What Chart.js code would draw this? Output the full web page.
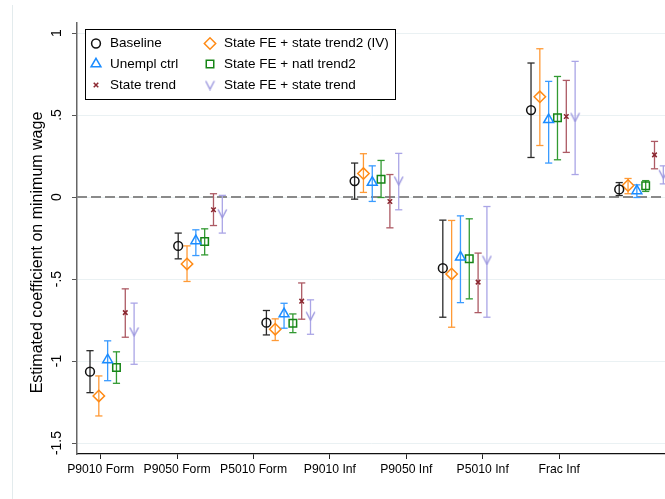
<!DOCTYPE html>
<html>
<head>
<meta charset="utf-8">
<script src="https://cdn.jsdelivr.net/npm/chart.js@4.4.1/dist/chart.umd.min.js"></script>
<style>
  html, body { margin: 0; padding: 0; background: #fff; }
  #wrap { width: 665px; height: 499px; position: relative; }
</style>
</head>
<body>
<div id="wrap"><canvas id="chart" width="665" height="499"></canvas></div>
<script>
// ---- данные ----
const categories = ['P9010 Form', 'P9050 Form', 'P5010 Form', 'P9010 Inf', 'P9050 Inf', 'P5010 Inf', 'Frac Inf'];
const tickPos = [0.121, 0.987, 1.854, 2.72, 3.586, 4.452, 5.319];   // where the category labels sit
const groupPos = [0, 1, 2, 3, 4, 5, 6];                              // where each group of estimates sits
const yTicks = [-1.5, -1, -0.5, 0, 0.5, 1];
const refLine = 0;
const yTitle = 'Estimated coefficient on minimum wage';

const seriesNames = ['Baseline', 'State FE + state trend2 (IV)', 'Unempl ctrl', 'State FE + natl trend2', 'State trend', 'State FE + state trend'];
const seriesOffset = [0, 0.1, 0.2, 0.3, 0.4, 0.5];

const baselineEst = [-1.065, -0.298, -0.766, 0.097, -0.434, 0.530, 0.046];
const baselineHi  = [-0.937, -0.220, -0.692, 0.207, -0.141, 0.817, 0.088];
const baselineLo  = [-1.193, -0.377, -0.841, -0.013, -0.733, 0.241, 0.009];

const ivEst = [-1.213, -0.408, -0.806, 0.143, -0.469, 0.611, 0.070];
const ivHi  = [-1.091, -0.298, -0.743, 0.264, -0.143, 0.904, 0.113];
const ivLo  = [-1.335, -0.515, -0.875, 0.028, -0.794, 0.314, 0.020];

const unemplEst = [-0.993, -0.267, -0.713, 0.089, -0.367, 0.471, 0.038];
const unemplHi  = [-0.877, -0.200, -0.648, 0.190, -0.115, 0.705, 0.074];
const unemplLo  = [-1.120, -0.357, -0.800, -0.027, -0.644, 0.207, -0.003];

const natlEst = [-1.040, -0.271, -0.770, 0.109, -0.377, 0.483, 0.068];
const natlHi  = [-0.944, -0.194, -0.713, 0.223, -0.133, 0.735, 0.100];
const natlLo  = [-1.136, -0.353, -0.827, -0.003, -0.621, 0.227, 0.034];

const trendEst = [-0.705, -0.078, -0.635, -0.027, -0.519, 0.491, 0.257];
const trendHi  = [-0.560, 0.020, -0.524, 0.137, -0.342, 0.711, 0.339];
const trendLo  = [-0.855, -0.174, -0.745, -0.188, -0.705, 0.272, 0.172];

const feTrendEst = [-0.820, -0.100, -0.725, 0.100, -0.383, 0.488, 0.140];
const feTrendHi  = [-0.647, 0.010, -0.627, 0.266, -0.058, 0.827, 0.190];
const feTrendLo  = [-1.020, -0.220, -0.837, -0.078, -0.733, 0.137, 0.080];

const estimates = [baselineEst, ivEst, unemplEst, natlEst, trendEst, feTrendEst];
const highs = [baselineHi, ivHi, unemplHi, natlHi, trendHi, feTrendHi];
const lows = [baselineLo, ivLo, unemplLo, natlLo, trendLo, feTrendLo];

// ---- стили ----
const FONT = "'Liberation Sans', Arial, sans-serif";

// V-маркер (нет такого pointStyle в Chart.js)
function makeV(color) {
    const c = document.createElement('canvas');
    c.width = 11; c.height = 11;
    const g = c.getContext('2d');
    g.strokeStyle = color;
    g.lineWidth = 1.4;
    g.beginPath();
    g.moveTo(1.2, 1.5);
    g.lineTo(5.5, 9.8);
    g.lineTo(9.8, 1.5);
    g.stroke();
    return c;
}

const markerStyle = [
    { color: '#111111', bar: '#2b2b2b', style: 'circle',   radius: 4.4 },
    { color: '#ff8a14', bar: '#ff9a36', style: 'rectRot',  radius: 5.7 },
    { color: '#1b8cff', bar: '#3a9bff', style: 'triangle', radius: 5.7 },
    { color: '#168516', bar: '#329a32', style: 'rect',     radius: 5.3 },
    { color: '#8b2730', bar: '#ad5a64', style: 'crossRot', radius: 3.2 },
    { color: '#9c97df', bar: '#aaa5e6', style: makeV('#9c97df'), radius: 5.5 }
];

const xMin = -0.1474, xMax = 6.519;

// ---- наборы данных ----
const datasets = [];
seriesNames.forEach((name, s) => {
    const st = markerStyle[s];
    const pts = [];
    const bars = [];
    groupPos.forEach((g, i) => {
        const x = g + seriesOffset[s];
        pts.push({ x: x, y: estimates[s][i] });
        bars.push({ x: x, y: lows[s][i] });
        bars.push({ x: x, y: highs[s][i] });
        bars.push({ x: x, y: null });
    });
    // доверительные интервалы
    datasets.push({
        type: 'line',
        label: name + ' CI',
        data: bars,
        borderColor: st.bar,
        borderWidth: 1.3,
        spanGaps: false,
        tension: 0,
        pointStyle: 'line',
        pointRadius: 3.6,
        pointBorderColor: st.bar,
        pointBorderWidth: 1.3,
        order: 2
    });
    // точечные оценки
    datasets.push({
        type: 'scatter',
        label: name,
        data: pts,
        pointStyle: st.style,
        pointRadius: st.radius,
        pointBorderColor: st.color,
        pointBackgroundColor: 'rgba(0,0,0,0)',
        pointBorderWidth: 1.5,
        order: 1
    });
});

// пунктир на нуле
datasets.push({
    type: 'line',
    label: 'zero',
    data: [{ x: xMin, y: refLine }, { x: xMax, y: refLine }],
    borderColor: '#8a8a8a',
    borderWidth: 2,
    borderDash: [10, 4],
    pointRadius: 0,
    order: 10
});

// ---- легенда в рамке + подпись оси Y ----
const legendLayout = [
    { s: 0, x: 96,  y: 43.5 }, { s: 2, x: 96,  y: 64 }, { s: 4, x: 96,  y: 85 },
    { s: 1, x: 210, y: 43.5 }, { s: 3, x: 210, y: 64 }, { s: 5, x: 210, y: 85 }
];

const boxLegend = {
    id: 'boxLegend',
    beforeDraw(chart) {
        const ctx = chart.ctx;
        ctx.save();
        ctx.strokeStyle = '#e3ebed';
        ctx.lineWidth = 1;
        ctx.beginPath();
        ctx.moveTo(12.5, 5);
        ctx.lineTo(12.5, 499);
        ctx.stroke();
        ctx.restore();
    },
    afterDraw(chart) {
        const ctx = chart.ctx;
        ctx.save();
        // заголовок оси Y
        ctx.translate(38, 252.5);
        ctx.rotate(-Math.PI / 2);
        ctx.font = '16px ' + FONT;
        ctx.fillStyle = '#000';
        ctx.textAlign = 'center';
        ctx.textBaseline = 'middle';
        ctx.fillText(yTitle, 0, 0);
        ctx.restore();

        ctx.save();
        ctx.fillStyle = '#ffffff';
        ctx.fillRect(85.5, 29.5, 310, 70);
        ctx.strokeStyle = '#000000';
        ctx.lineWidth = 1;
        ctx.strokeRect(85.5, 29.5, 310, 70);
        ctx.font = '13.5px ' + FONT;
        ctx.textBaseline = 'middle';
        ctx.textAlign = 'left';
        legendLayout.forEach(e => {
            const st = markerStyle[e.s];
            ctx.strokeStyle = st.color;
            ctx.fillStyle = 'rgba(0,0,0,0)';
            ctx.lineWidth = 1.5;
            Chart.helpers.drawPoint(ctx, { pointStyle: st.style, radius: st.radius, rotation: 0, borderWidth: 1.5 }, e.x, e.y);
            ctx.fillStyle = '#000000';
            ctx.fillText(seriesNames[e.s], e.x + 14, e.y);
        });
        ctx.restore();
    }
};

new Chart(document.getElementById('chart').getContext('2d'), {
    data: { datasets: datasets },
    options: {
        responsive: false,
        animation: false,
        layout: { autoPadding: false, padding: { top: 23, left: 0, right: 0, bottom: 0 } },
        plugins: {
            legend: { display: false },
            tooltip: { enabled: false }
        },
        scales: {
            x: {
                type: 'linear',
                min: xMin,
                max: xMax,
                afterBuildTicks: scale => { scale.ticks = tickPos.map(v => ({ value: v })); },
                afterFit: scale => { scale.height = 45; },
                grid: { drawOnChartArea: false, drawTicks: true, tickLength: 5, tickColor: '#222', tickWidth: 1 },
                border: { color: '#111', width: 1.3 },
                ticks: {
                    autoSkip: false,
                    maxRotation: 0,
                    padding: 3,
                    color: '#000',
                    font: { family: FONT, size: 12.2 },
                    callback: (v, i) => categories[i]
                }
            },
            y: {
                type: 'linear',
                min: -1.567,
                max: 1.061,
                afterBuildTicks: scale => { scale.ticks = yTicks.map(v => ({ value: v })); },
                afterFit: scale => { scale.width = 77; },
                grid: { color: '#eaf1f3', lineWidth: 1, drawTicks: true, tickLength: 5, tickColor: '#555', tickWidth: 1 },
                border: { color: '#666', width: 1.5 },
                title: { display: false },
                ticks: {
                    minRotation: 90,
                    maxRotation: 90,
                    crossAlign: 'center',
                    padding: 3,
                    color: '#000',
                    font: { family: FONT, size: 14 },
                    callback: v => String(v).replace('0.', '.')
                }
            }
        }
    },
    plugins: [boxLegend]
});
</script>
</body>
</html>
